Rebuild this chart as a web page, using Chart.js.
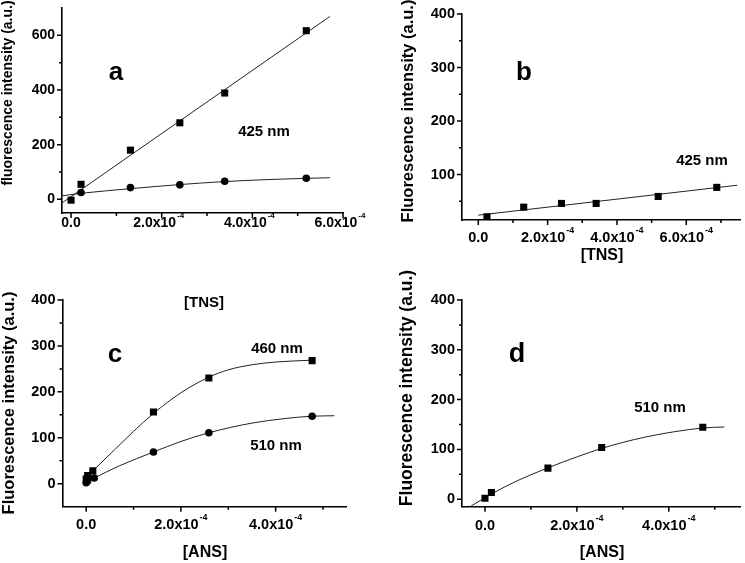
<!DOCTYPE html>
<html>
<head>
<meta charset="utf-8">
<script src="https://cdn.jsdelivr.net/npm/chart.js@4.4.1/dist/chart.umd.min.js"></script>
<style>
  html, body { margin: 0; padding: 0; background: #fff; }
  #fig { position: relative; width: 745px; height: 563px; overflow: hidden; }
  #fig canvas { position: absolute; left: 0; top: 0; }
  .lbl {
    position: absolute; white-space: nowrap; line-height: 1;
    font-family: "Liberation Sans", Arial, sans-serif; font-weight: bold; color: #000;
    transform: translate(-50%, -50%);
  }
  .rot { transform: translate(-50%, -50%) rotate(-90deg); }
</style>
</head>
<body>
<div id="fig">
  <canvas id="pa" width="745" height="563"></canvas>
  <canvas id="pb" width="745" height="563"></canvas>
  <canvas id="pc" width="745" height="563"></canvas>
  <canvas id="pd" width="745" height="563"></canvas>

  <div class="lbl rot" style="left:7px;top:93px;font-size:14px">fluorescence intensity (a.u.)</div>
  <div class="lbl" style="left:116px;top:71px;font-size:26px">a</div>
  <div class="lbl" style="left:264px;top:130px;font-size:15px">425 nm</div>
  <div class="lbl" style="left:204px;top:301px;font-size:15px">[TNS]</div>

  <div class="lbl rot" style="left:407px;top:111px;font-size:16.5px">Fluorescence intensity (a.u.)</div>
  <div class="lbl" style="left:524px;top:71px;font-size:26px">b</div>
  <div class="lbl" style="left:702px;top:159px;font-size:15px">425 nm</div>
  <div class="lbl" style="left:602px;top:255px;font-size:16px">[TNS]</div>

  <div class="lbl rot" style="left:8px;top:403px;font-size:16.5px">Fluorescence intensity (a.u.)</div>
  <div class="lbl" style="left:115px;top:353px;font-size:26px">c</div>
  <div class="lbl" style="left:277px;top:347px;font-size:15px">460 nm</div>
  <div class="lbl" style="left:276px;top:444px;font-size:15px">510 nm</div>
  <div class="lbl" style="left:205px;top:552px;font-size:16px">[ANS]</div>

  <div class="lbl rot" style="left:407px;top:388px;font-size:17.5px">Fluorescence intensity (a.u.)</div>
  <div class="lbl" style="left:517px;top:353px;font-size:27px">d</div>
  <div class="lbl" style="left:660px;top:406px;font-size:15px">510 nm</div>
  <div class="lbl" style="left:602px;top:552px;font-size:16px">[ANS]</div>
</div>

<script>
// panel a: [TNS], 425 nm
const aSquareX = [0, 0.22e-4, 1.31e-4, 2.40e-4, 3.39e-4, 5.19e-4];
const aSquareY = [-3, 55, 180, 280, 389, 617];
const aCircleX = [0.22e-4, 1.31e-4, 2.40e-4, 3.39e-4, 5.19e-4];
const aCircleY = [25, 43, 53, 66, 77];
const aFitSquareX = [-0.19e-4, 5.71e-4];
const aFitSquareY = [-12, 669];
const aFitCircleX = [-0.19e-4, 0.22e-4, 1.31e-4, 2.40e-4, 3.39e-4, 4.3e-4, 5.19e-4, 5.71e-4];
const aFitCircleY = [13, 22, 39, 54, 65, 72, 77, 79];

// panel b: [TNS], 425 nm
const bSquareX = [0.25e-4, 1.31e-4, 2.40e-4, 3.40e-4, 5.19e-4, 6.88e-4];
const bSquareY = [21, 39, 46, 46, 59, 76];
const bFitX = [0, 7.47e-4];
const bFitY = [24, 80];

// panel c: [ANS], 460 nm (squares) and 510 nm (circles)
const cSquareX = [0, 0.03e-4, 0.14e-4, 1.42e-4, 2.59e-4, 4.77e-4];
const cSquareY = [10, 18, 28, 156, 230, 268];
const cCircleX = [0, 0.03e-4, 0.17e-4, 1.42e-4, 2.59e-4, 4.77e-4];
const cCircleY = [2, 6, 12.5, 69, 111, 147];
const cFit460X = [0.14e-4, 0.6e-4, 1.0e-4, 1.42e-4, 2.0e-4, 2.59e-4, 3.0e-4, 3.5e-4, 4.0e-4, 4.77e-4];
const cFit460Y = [28, 74, 114, 153, 198, 232, 248, 259, 265, 269];
const cFit510X = [0.17e-4, 0.7e-4, 1.42e-4, 2.0e-4, 2.59e-4, 3.5e-4, 4.2e-4, 4.77e-4, 5.24e-4];
const cFit510Y = [12.5, 39, 69, 92, 111, 132, 142, 147, 148];

// panel d: [ANS], 510 nm
const dSquareX = [0, 0.14e-4, 1.37e-4, 2.54e-4, 4.74e-4];
const dSquareY = [2, 13.5, 62.5, 104, 144.5];
const dFitX = [-0.3e-4, 0, 0.14e-4, 0.7e-4, 1.37e-4, 2.0e-4, 2.54e-4, 3.5e-4, 4.74e-4, 5.21e-4];
const dFitY = [-13.5, 3, 10.5, 37, 63, 85, 102, 125, 143, 145];

// ticks
const xMajorA = [0, 2e-4, 4e-4, 6e-4];
const xMinorA = [1e-4, 3e-4, 5e-4];
const yMajorA = [0, 200, 400, 600];
const yMinorA = [100, 300, 500];
const xMajorB = [0, 2e-4, 4e-4, 6e-4];
const xMinorB = [1e-4, 3e-4, 5e-4, 7e-4];
const yMajorB = [100, 200, 300, 400];
const yMinorB = [50, 150, 250, 350];
const xMajorCD = [0, 2e-4, 4e-4];
const xMinorCD = [1e-4, 3e-4, 5e-4];
const yMajorCD = [0, 100, 200, 300, 400];
const yMinorCD = [50, 150, 250, 350];

const W = 745, H = 563;
const FONT = '"Liberation Sans", Arial, sans-serif';

let zip = (xs, ys) => xs.map((x, i) => ({x: x, y: ys[i]}));

let squares = (xs, ys) => ({
    data: zip(xs, ys), showLine: false, pointStyle: 'rect', pointRadius: 5,
    backgroundColor: '#000', borderColor: '#000', borderWidth: 0
});
let circles = (xs, ys) => ({
    data: zip(xs, ys), showLine: false, pointStyle: 'circle', pointRadius: 3.8,
    backgroundColor: '#000', borderColor: '#000', borderWidth: 0
});
let fit = (xs, ys) => ({
    data: zip(xs, ys), showLine: true, pointRadius: 0, borderColor: '#222',
    borderWidth: 1, cubicInterpolationMode: 'monotone', fill: false
});

// tick marks and tick labels, drawn from the chart's own scales
let axisPlugin = function(ax) {
    return {
        id: 'panelAxes',
        afterDraw(chart) {
            let ctx = chart.ctx, ca = chart.chartArea;
            let sx = chart.scales.x, sy = chart.scales.y;
            ctx.save();
            ctx.strokeStyle = '#000';
            ctx.lineWidth = 1.5;
            ctx.beginPath();
            ax.xMinor.forEach(v => {
                let p = sx.getPixelForValue(v);
                ctx.moveTo(p, ca.bottom); ctx.lineTo(p, ca.bottom + 3);
            });
            ax.xMajor.forEach(v => {
                let p = sx.getPixelForValue(v);
                ctx.moveTo(p, ca.bottom); ctx.lineTo(p, ca.bottom + 5);
            });
            ax.yMinor.forEach(v => {
                let p = sy.getPixelForValue(v);
                ctx.moveTo(ca.left, p); ctx.lineTo(ca.left - 3, p);
            });
            ax.yMajor.forEach(v => {
                let p = sy.getPixelForValue(v);
                ctx.moveTo(ca.left, p); ctx.lineTo(ca.left - 5, p);
            });
            ctx.stroke();

            ctx.fillStyle = '#000';
            ctx.font = 'bold ' + ax.fs + 'px ' + FONT;
            ctx.textAlign = 'right';
            ctx.textBaseline = 'middle';
            ax.yMajor.forEach(v => {
                ctx.fillText(String(v), ca.left - 7, sy.getPixelForValue(v));
            });

            ax.xMajor.forEach(v => {
                let p = sx.getPixelForValue(v);
                let k = v / 1e-4;
                ctx.font = 'bold ' + ax.fs + 'px ' + FONT;
                if (Math.abs(k) < 1e-9) {
                    ctx.textAlign = 'center';
                    ctx.fillText('0.0', p, ax.ty);
                    return;
                }
                let base = k.toFixed(1) + 'x10';
                let bw = ctx.measureText(base).width;
                ctx.font = 'bold ' + Math.round(ax.fs * 0.6) + 'px ' + FONT;
                let sw = ctx.measureText('-4').width;
                let start = p - (bw + sw + 1) / 2 + ax.shift;
                ctx.textAlign = 'left';
                ctx.fillText('-4', start + bw + 1, ax.ty - ax.fs * 0.55);
                ctx.font = 'bold ' + ax.fs + 'px ' + FONT;
                ctx.fillText(base, start, ax.ty);
            });
            ctx.restore();
        }
    };
};

let makePanel = function(id, geo, datasets, ax) {
    new Chart(document.getElementById(id), {
        type: 'scatter',
        data: {datasets: datasets},
        options: {
            responsive: false,
            animation: false,
            devicePixelRatio: 1,
            events: [],
            layout: {padding: {left: geo.L, top: geo.T, right: W - geo.R, bottom: H - geo.B}},
            plugins: {legend: {display: false}, tooltip: {enabled: false}},
            scales: {
                x: {
                    type: 'linear', min: geo.xmin, max: geo.xmax,
                    grid: {display: false}, ticks: {display: false},
                    border: {display: true, color: '#000', width: 1.6},
                    afterFit: s => { s.height = 0; s.paddingLeft = 0; s.paddingRight = 0; }
                },
                y: {
                    type: 'linear', min: geo.ymin, max: geo.ymax,
                    grid: {display: false}, ticks: {display: false},
                    border: {display: true, color: '#000', width: 1.6},
                    afterFit: s => { s.width = 0; s.paddingTop = 0; s.paddingBottom = 0; }
                }
            }
        },
        plugins: [axisPlugin(ax)]
    });
};

makePanel('pa',
    {L: 62, R: 343, T: 8, B: 213, xmin: -0.2e-4, xmax: 6e-4, ymin: -50, ymax: 700},
    [squares(aSquareX, aSquareY), circles(aCircleX, aCircleY),
     fit(aFitSquareX, aFitSquareY), fit(aFitCircleX, aFitCircleY)],
    {xMajor: xMajorA, xMinor: xMinorA, yMajor: yMajorA, yMinor: yMinorA, fs: 14, ty: 223, shift: -3});

makePanel('pb',
    {L: 462, R: 745, T: 14, B: 220, xmin: -0.47e-4, xmax: 7.55e-4, ymin: 15, ymax: 400},
    [squares(bSquareX, bSquareY), fit(bFitX, bFitY)],
    {xMajor: xMajorB, xMinor: xMinorB, yMajor: yMajorB, yMinor: yMinorB, fs: 14.5, ty: 238, shift: 0});

makePanel('pc',
    {L: 62.5, R: 346.7, T: 300, B: 506.7, xmin: -0.5e-4, xmax: 5.5e-4, ymin: -50, ymax: 400},
    [squares(cSquareX, cSquareY), circles(cCircleX, cCircleY),
     fit(cFit460X, cFit460Y), fit(cFit510X, cFit510Y)],
    {xMajor: xMajorCD, xMinor: xMinorCD, yMajor: yMajorCD, yMinor: yMinorCD, fs: 14.5, ty: 525, shift: 0});

makePanel('pd',
    {L: 462, R: 744, T: 300, B: 506.7, xmin: -0.5e-4, xmax: 5.55e-4, ymin: -15, ymax: 400},
    [squares(dSquareX, dSquareY), fit(dFitX, dFitY)],
    {xMajor: xMajorCD, xMinor: xMinorCD, yMajor: yMajorCD, yMinor: yMinorCD, fs: 14.5, ty: 526, shift: 0});
</script>
</body>
</html>
